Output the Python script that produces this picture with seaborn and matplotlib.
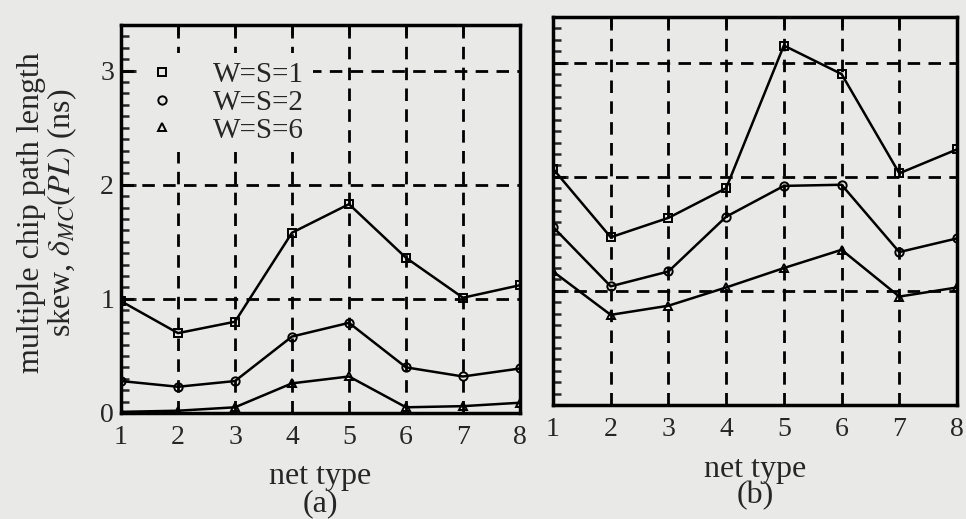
import numpy as np
import pandas as pd
import seaborn as sns
import matplotlib
matplotlib.use("Agg")
import matplotlib.pyplot as plt
from matplotlib.lines import Line2D
from matplotlib.ticker import MultipleLocator, FixedLocator

# ---------------- data ----------------
net_type = [1, 2, 3, 4, 5, 6, 7, 8]
series_names = ["W=S=1", "W=S=2", "W=S=6"]

a_ws1 = [0.98, 0.70, 0.80, 1.58, 1.83, 1.36, 1.01, 1.12]
a_ws2 = [0.28, 0.23, 0.28, 0.67, 0.79, 0.40, 0.32, 0.39]
a_ws6 = [0.01, 0.02, 0.05, 0.26, 0.32, 0.05, 0.06, 0.09]

b_ws1 = [2.07, 1.47, 1.64, 1.90, 3.15, 2.90, 2.03, 2.24]
b_ws2 = [1.56, 1.04, 1.17, 1.65, 1.92, 1.93, 1.34, 1.46]
b_ws6 = [1.17, 0.79, 0.87, 1.03, 1.20, 1.36, 0.95, 1.03]

y_ticks = [0, 1, 2, 3]
panel_labels = ["net type\n(a)", "net type\n(b)"]
y_label = "multiple chip path length\nskew, $\\delta_{MC}(PL)$ (ns)"


def long_frame(s1, s2, s6):
    rows = []
    for name, vals in zip(series_names, [s1, s2, s6]):
        for x, v in zip(net_type, vals):
            rows.append({"net": x, "val": v, "series": name})
    return pd.DataFrame(rows)


df_a = long_frame(a_ws1, a_ws2, a_ws6)
df_b = long_frame(b_ws1, b_ws2, b_ws6)

# ---------------- style ----------------
BG = "#e9e9e7"
sns.set_style("ticks")
plt.rcParams["font.family"] = ["Liberation Serif", "DejaVu Serif"]
plt.rcParams["mathtext.fontset"] = "stix"

fig = plt.figure(figsize=(9.66, 5.19), dpi=100, facecolor=BG)
W, H = 966, 519
ax_a = fig.add_axes([121 / W, 1 - 413 / H, (520 - 121) / W, (413 - 25) / H])
ax_b = fig.add_axes([553 / W, 1 - 405 / H, (957 - 553) / W, (405 - 17) / H])

markers = ["s", "o", "^"]
for ax, df in [(ax_a, df_a), (ax_b, df_b)]:
    ax.set_facecolor(BG)
    sns.lineplot(data=df, x="net", y="val", hue="series", style="series",
                 markers=markers, dashes=False, palette=["black"] * 3,
                 ax=ax, legend=False, linewidth=1.8, markersize=6,
                 markerfacecolor="none", markeredgecolor="black",
                 markeredgewidth=1.4, zorder=3)
    ax.set_xlim(1, 8)
    ax.set_ylim(0, 3.4)
    ax.xaxis.set_major_locator(FixedLocator(net_type))
    ax.yaxis.set_major_locator(FixedLocator(y_ticks))
    ax.yaxis.set_minor_locator(MultipleLocator(0.1))
    # dashed grid (interior lines only)
    for xv in net_type[1:-1]:
        ax.axvline(xv, color="black", lw=2.0, ls=(0, (4.5, 3)), zorder=1)
    for yv in y_ticks[1:]:
        ax.axhline(yv, color="black", lw=2.0, ls=(0, (4.5, 3)), zorder=1)
    for s in ax.spines.values():
        s.set_visible(True)
        s.set_linewidth(2.5)
        s.set_color("black")
    ax.tick_params(axis="y", which="major", direction="in", length=11,
                   width=2.2, left=True, right=False, labelsize=20, pad=5)
    ax.tick_params(axis="y", which="minor", direction="in", length=6,
                   width=1.8, left=True, right=False)
    ax.tick_params(axis="x", which="major", direction="in", length=7,
                   width=1.8, bottom=False, top=True, labelsize=20, pad=9)
    ax.set_ylabel("")

ax_a.set_xlabel(panel_labels[0], fontsize=23, linespacing=0.92, labelpad=8)
ax_b.set_xlabel(panel_labels[1], fontsize=23, linespacing=0.86, labelpad=9)
ax_b.tick_params(axis="y", which="both", labelleft=False)

fig.text(48 / W, 1 - 213 / H, y_label, rotation=90, ha="center", va="center",
         fontsize=23, linespacing=0.95)

handles = [Line2D([], [], ls="none", marker=m, mfc="none", mec="black",
                  mew=1.4, ms=6) for m in markers]
leg = ax_a.legend(handles, series_names, loc="center left",
                  bbox_to_anchor=(0.045, 0.80), frameon=True,
                  facecolor=BG, edgecolor="none", framealpha=1,
                  fontsize=21, handlelength=1.0, handletextpad=1.25,
                  labelspacing=0.05, borderpad=0.3, borderaxespad=0)
leg.set_zorder(5)

fig.savefig("out.png", dpi=100, facecolor=BG)
